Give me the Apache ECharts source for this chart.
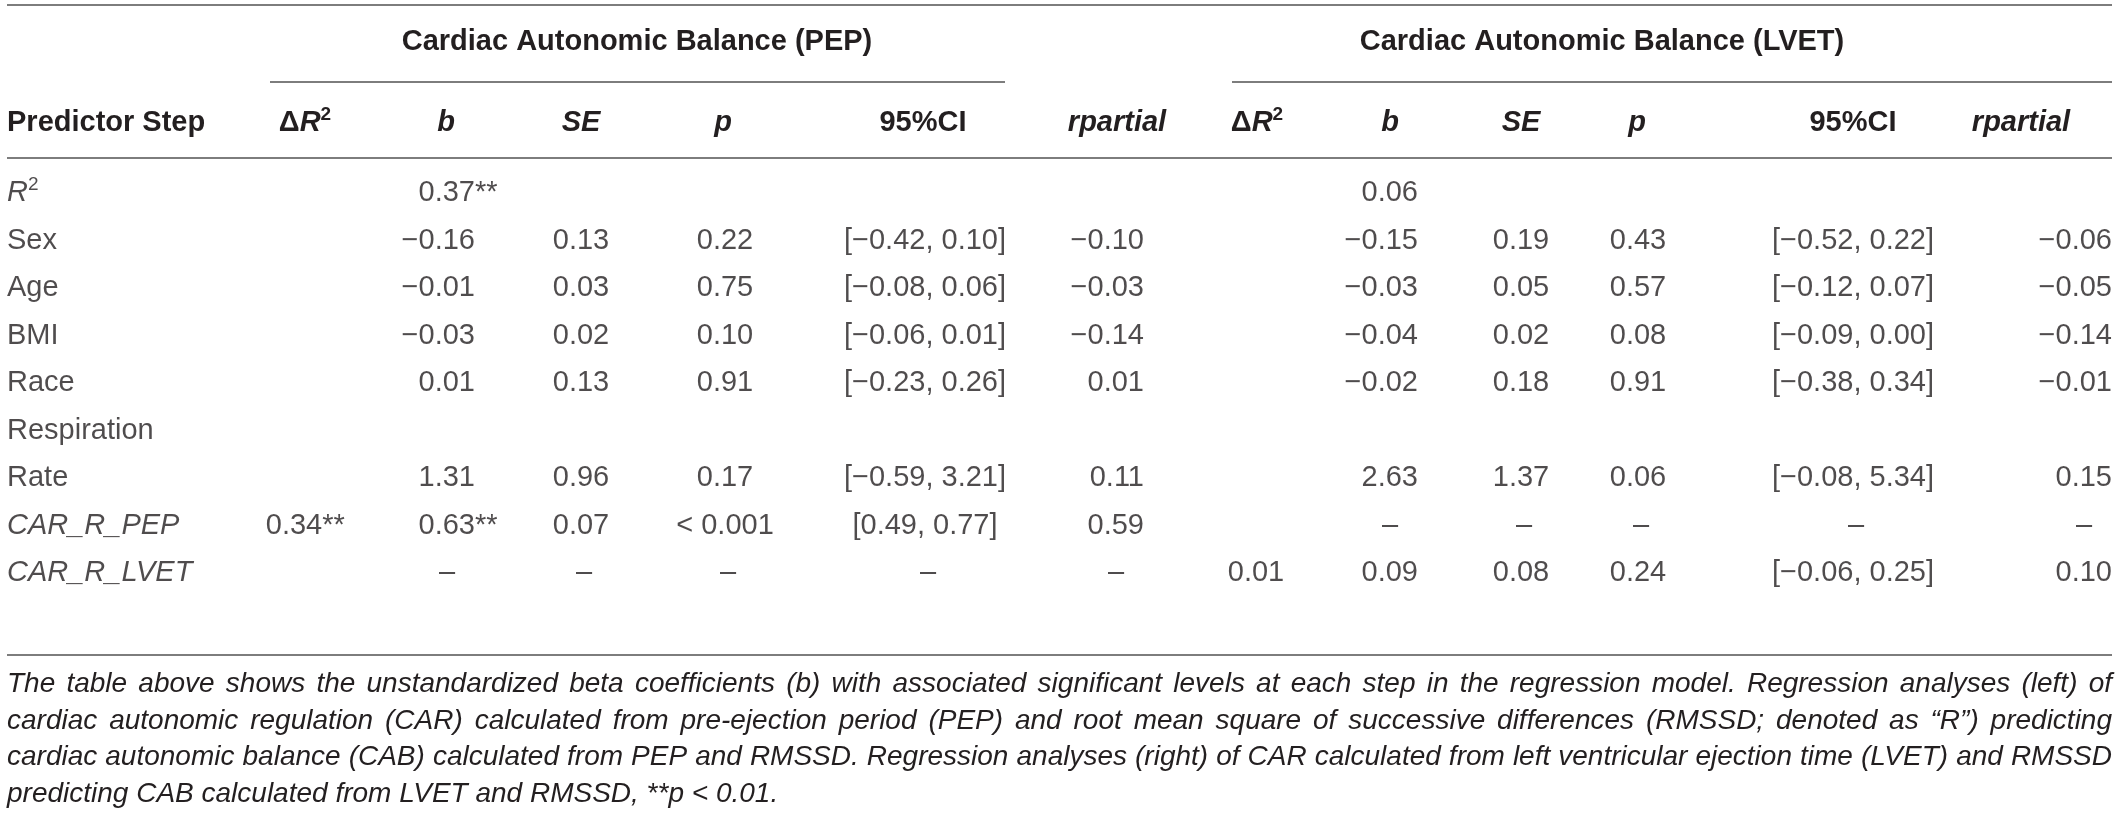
<!DOCTYPE html>
<html>
<head>
<meta charset="utf-8">
<script src="https://cdn.jsdelivr.net/npm/echarts@6/dist/echarts.min.js"></script>
<style>
html,body{margin:0;padding:0;background:#ffffff;}
#chart{width:2122px;height:816px;}
</style>
</head>
<body>
<div id="chart"></div>
<script>
// ---------------- data ----------------
const rowLabels = ['R²', 'Sex', 'Age', 'BMI', 'Race', 'Respiration', 'Rate', 'CAR_R_PEP', 'CAR_R_LVET'];
const groupTitles = ['Cardiac Autonomic Balance (PEP)', 'Cardiac Autonomic Balance (LVET)'];
const firstHeader = 'Predictor Step';
const columnHeaders = ['ΔR²', 'b', 'SE', 'p', '95%CI', 'rpartial'];

const pepDeltaR2   = ['', '', '', '', '', '', '', '0.34**', ''];
const pepB         = ['0.37**', '−0.16', '−0.01', '−0.03', '0.01', '', '1.31', '0.63**', '–'];
const pepSE        = ['', '0.13', '0.03', '0.02', '0.13', '', '0.96', '0.07', '–'];
const pepP         = ['', '0.22', '0.75', '0.10', '0.91', '', '0.17', '< 0.001', '–'];
const pepCI        = ['', '[−0.42, 0.10]', '[−0.08, 0.06]', '[−0.06, 0.01]', '[−0.23, 0.26]', '', '[−0.59, 3.21]', '[0.49, 0.77]', '–'];
const pepRpartial  = ['', '−0.10', '−0.03', '−0.14', '0.01', '', '0.11', '0.59', '–'];

const lvetDeltaR2  = ['', '', '', '', '', '', '', '', '0.01'];
const lvetB        = ['0.06', '−0.15', '−0.03', '−0.04', '−0.02', '', '2.63', '–', '0.09'];
const lvetSE       = ['', '0.19', '0.05', '0.02', '0.18', '', '1.37', '–', '0.08'];
const lvetP        = ['', '0.43', '0.57', '0.08', '0.91', '', '0.06', '–', '0.24'];
const lvetCI       = ['', '[−0.52, 0.22]', '[−0.12, 0.07]', '[−0.09, 0.00]', '[−0.38, 0.34]', '', '[−0.08, 5.34]', '–', '[−0.06, 0.25]'];
const lvetRpartial = ['', '−0.06', '−0.05', '−0.14', '−0.01', '', '0.15', '–', '0.10'];

const captionLines = [
  'The table above shows the unstandardized beta coefficients (b) with associated significant levels at each step in the regression model. Regression analyses (left) of',
  'cardiac autonomic regulation (CAR) calculated from pre-ejection period (PEP) and root mean square of successive differences (RMSSD; denoted as “R”) predicting',
  'cardiac autonomic balance (CAB) calculated from PEP and RMSSD. Regression analyses (right) of CAR calculated from left ventricular ejection time (LVET) and RMSSD',
  'predicting CAB calculated from LVET and RMSSD, **p < 0.01.'
];

// ---------------- layout & style ----------------
const TXT = '#231f20';
const RULE = '#7d7d7d';
const FONT = '"Liberation Sans", Helvetica, Arial, sans-serif';
const FS = 29, CFS = 28, SUPFS = 19;

const L = {
  left: 7, right: 2112, width: 2122, height: 816,
  blocks: [
    { cols: [
        { x: 294, align: 'center', hx: 305 },
        { x: 475, align: 'right', hx: 446 },
        { x: 581, align: 'center', hx: 581 },
        { x: 725, align: 'center', hx: 723 },
        { x: 925, align: 'center', hx: 923 },
        { x: 1144, align: 'right', hx: 1117 }
      ], titleX: 637, rule: [270, 1005] },
    { cols: [
        { x: 1256, align: 'center', hx: 1257 },
        { x: 1418, align: 'right', hx: 1390 },
        { x: 1521, align: 'center', hx: 1521 },
        { x: 1638, align: 'center', hx: 1637 },
        { x: 1853, align: 'center', hx: 1853 },
        { x: 2112, align: 'right', hx: 2021 }
      ], titleX: 1602, rule: [1232, 2112] }
  ],
  yTopRule: 5, yTitle: 42, yTitleRule: 82, yHeader: 123, yHeadRule: 158, yBottomRule: 655,
  gridTop: 169.25, rowPitch: 47.5, captionY: 684, captionPitch: 36.8, dashShift: 28
};

const blockData = [
  [pepDeltaR2, pepB, pepSE, pepP, pepCI, pepRpartial],
  [lvetDeltaR2, lvetB, lvetSE, lvetP, lvetCI, lvetRpartial]
];

const ctx = document.createElement('canvas').getContext('2d');
function textWidth(t, font) { ctx.font = font; return ctx.measureText(t).width; }

const RICH = {
  nm:  { fontFamily: FONT, fontSize: FS, color: TXT, lineHeight: 36 },
  it:  { fontFamily: FONT, fontSize: FS, fontStyle: 'italic', color: TXT, lineHeight: 36 },
  sup: { fontFamily: FONT, fontSize: SUPFS, color: TXT, lineHeight: 22, verticalAlign: 'top' }
};

function rowLabelRich(s) {
  if (s.indexOf('²') >= 0) return '{it|' + s.replace('²', '') + '}{sup|2}';
  if (s.indexOf('CAR_') === 0) return '{it|' + s + '}';
  return '{nm|' + s + '}';
}

function cellSeries(values, col) {
  const data = [];
  values.forEach((v, i) => {
    if (v === '') return;
    const m = v.match(/^(.*?)(\*+)$/);
    const num = m ? m[1] : v;
    const stars = m ? m[2] : '';
    let align = col.align, dx = 0;
    if (num === '–') { align = 'center'; dx = col.align === 'right' ? -L.dashShift : 3; }
    if (stars) {
      const sw = textWidth(stars, FS + 'px ' + FONT);
      dx += align === 'right' ? sw : sw / 2;
    }
    data.push({
      value: [col.x, i],
      t: '{nm|' + num + stars + '}',
      label: { align: align, offset: [dx, 0] }
    });
  });
  return {
    type: 'scatter', symbol: 'circle', symbolSize: 1, silent: true, clip: false,
    itemStyle: { color: 'rgba(0,0,0,0)' },
    data: data,
    label: { show: true, position: 'inside', formatter: p => p.data.t, rich: RICH, color: TXT }
  };
}

const series = [];
series.push({
  type: 'scatter', symbol: 'circle', symbolSize: 1, silent: true, clip: false,
  itemStyle: { color: 'rgba(0,0,0,0)' },
  data: rowLabels.map((s, i) => ({ value: [L.left, i], t: rowLabelRich(s) })),
  label: { show: true, position: 'inside', align: 'left', formatter: p => p.data.t, rich: RICH, color: TXT }
});
L.blocks.forEach((b, bi) => {
  b.cols.forEach((c, ci) => series.push(cellSeries(blockData[bi][ci], c)));
});

// ---------------- graphic: rules, headers, caption ----------------
const HRICH = {
  hb:   { fontFamily: FONT, fontSize: FS, fontWeight: 'bold', fill: TXT, lineHeight: 36 },
  hbi:  { fontFamily: FONT, fontSize: FS, fontWeight: 'bold', fontStyle: 'italic', fill: TXT, lineHeight: 36 },
  hsup: { fontFamily: FONT, fontSize: SUPFS, fontWeight: 'bold', fill: TXT, lineHeight: 22, verticalAlign: 'top' }
};
const italicHeaders = ['b', 'SE', 'p', 'rpartial'];
function headerRich(h) {
  if (h.indexOf('R²') >= 0) return '{hb|Δ}{hbi|R}{hsup|2}';
  if (italicHeaders.indexOf(h) >= 0) return '{hbi|' + h + '}';
  return '{hb|' + h + '}';
}

const g = [];
function hline(x1, x2, y) {
  g.push({ type: 'line', silent: true, shape: { x1: x1, y1: y, x2: x2, y2: y }, style: { stroke: RULE, lineWidth: 2 } });
}
hline(L.left, L.right, L.yTopRule);
hline(L.left, L.right, L.yHeadRule);
hline(L.left, L.right, L.yBottomRule);
L.blocks.forEach((b, bi) => {
  hline(b.rule[0], b.rule[1], L.yTitleRule);
  g.push({ type: 'text', silent: true, x: b.titleX, y: L.yTitle,
    style: { text: groupTitles[bi], fontFamily: FONT, fontSize: FS, fontWeight: 'bold', fill: TXT, align: 'center', verticalAlign: 'middle' } });
  b.cols.forEach((c, ci) => {
    g.push({ type: 'text', silent: true, x: c.hx, y: L.yHeader,
      style: { text: headerRich(columnHeaders[ci]), rich: HRICH, fill: TXT, align: 'center', verticalAlign: 'middle' } });
  });
});
g.push({ type: 'text', silent: true, x: L.left, y: L.yHeader,
  style: { text: firstHeader, fontFamily: FONT, fontSize: FS, fontWeight: 'bold', fill: TXT, align: 'left', verticalAlign: 'middle' } });

// justified caption
const capFont = 'italic ' + CFS + 'px ' + FONT;
captionLines.forEach((line, li) => {
  const words = line.split(' ');
  const widths = words.map(w => textWidth(w, capFont));
  const sum = widths.reduce((a, b) => a + b, 0);
  const justify = li < captionLines.length - 1;
  const gap = justify ? (L.right - L.left - sum) / (words.length - 1) : textWidth(' ', capFont);
  let x = L.left;
  const y = L.captionY + li * L.captionPitch;
  words.forEach((w, wi) => {
    g.push({ type: 'text', silent: true, x: x, y: y,
      style: { text: w, fontFamily: FONT, fontSize: CFS, fontStyle: 'italic', fill: TXT, align: 'left', verticalAlign: 'middle' } });
    x += widths[wi] + gap;
  });
});

const chart = echarts.init(document.getElementById('chart'), null, { renderer: 'canvas' });
chart.setOption({
  animation: false,
  backgroundColor: '#ffffff',
  grid: { left: 0, right: 0, top: L.gridTop, height: L.rowPitch * rowLabels.length, containLabel: false },
  xAxis: { type: 'value', min: 0, max: L.width, show: false },
  yAxis: { type: 'category', data: rowLabels, inverse: true, show: false },
  series: series,
  graphic: { elements: g }
});
</script>
</body>
</html>
